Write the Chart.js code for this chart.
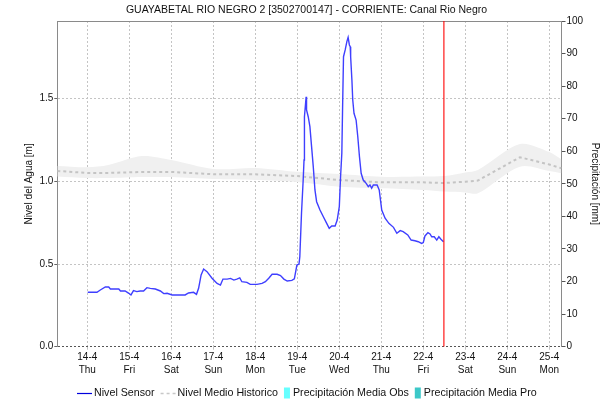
<!DOCTYPE html>
<html>
<head>
<meta charset="utf-8">
<script src="https://cdn.jsdelivr.net/npm/chart.js@4/dist/chart.umd.min.js"></script>
<style>
  html, body { margin: 0; padding: 0; background: #fff; }
  #wrap { width: 613px; height: 404px; }
</style>
</head>
<body>
<div id="wrap"><canvas id="c" width="613" height="404"></canvas></div>
<script>
// ---- Station / labels ----
const TITLE = 'GUAYABETAL RIO NEGRO 2 [3502700147] - CORRIENTE: Canal Rio Negro';
const DAY_LABELS = ['14-4', '15-4', '16-4', '17-4', '18-4', '19-4', '20-4', '21-4', '22-4', '23-4', '24-4', '25-4'];
const WEEKDAYS = ['Thu', 'Fri', 'Sat', 'Sun', 'Mon', 'Tue', 'Wed', 'Thu', 'Fri', 'Sat', 'Sun', 'Mon'];
const LEVEL_TICKS = [0, 0.5, 1.0, 1.5];

// x values are days counted from 14-4 00:00
const X_MIN = -0.714;
const X_MAX = 11.29;
const LEVEL_MAX = 1.97;
const PRECIP_MAX = 100;
const NOW_DAY = 8.49;

// ---- Water level from the sensor [m] ----
const SENSOR_T = [0.01,0.23,0.31,0.43,0.51,0.55,0.75,0.79,0.90,0.99,
  1.04,1.10,1.18,1.26,1.34,1.42,1.50,1.62,1.74,1.82,
  1.90,2.02,2.33,2.41,2.53,2.60,2.65,2.71,2.77,2.85,
  2.97,3.09,3.17,3.23,3.33,3.41,3.49,3.56,3.63,3.68,
  3.80,3.88,4.04,4.16,4.24,4.32,4.40,4.52,4.60,4.68,
  4.76,4.87,4.93,4.99,5.04,5.06,5.10,5.14,5.16,5.17,
  5.21,5.22,5.26,5.30,5.34,5.38,5.42,5.46,5.54,5.62,
  5.70,5.76,5.82,5.90,5.95,6.00,6.03,6.06,6.08,6.10,
  6.14,6.18,6.21,6.24,6.26,6.27,6.30,6.32,6.35,6.40,
  6.44,6.48,6.52,6.57,6.64,6.69,6.73,6.77,6.81,6.90,
  6.95,7.01,7.09,7.18,7.29,7.37,7.45,7.52,7.63,7.71,
  7.80,7.88,7.96,8.00,8.04,8.11,8.16,8.20,8.26,8.32,
  8.37,8.42,8.48];
const SENSOR_M = [0.329,0.329,0.343,0.361,0.361,0.349,0.349,0.337,0.337,0.323,
  0.313,0.339,0.333,0.337,0.337,0.357,0.353,0.349,0.337,0.321,
  0.323,0.313,0.313,0.325,0.329,0.317,0.353,0.434,0.470,0.454,
  0.414,0.383,0.373,0.409,0.409,0.413,0.403,0.409,0.416,0.393,
  0.389,0.377,0.377,0.383,0.393,0.414,0.438,0.438,0.430,0.409,
  0.397,0.401,0.410,0.494,0.500,0.544,0.807,1.008,1.129,1.391,
  1.512,1.432,1.391,1.331,1.210,1.089,0.948,0.877,0.827,0.786,
  0.746,0.716,0.730,0.730,0.766,0.847,1.028,1.170,1.472,1.754,
  1.795,1.845,1.871,1.825,1.815,1.754,1.613,1.492,1.412,1.371,
  1.270,1.149,1.049,1.008,0.988,0.968,0.978,0.958,0.978,0.978,
  0.948,0.827,0.777,0.746,0.722,0.686,0.702,0.696,0.676,0.645,
  0.641,0.635,0.625,0.630,0.670,0.690,0.682,0.665,0.665,0.645,
  0.665,0.650,0.635];

// ---- Historical mean level and its range [m] ----
const HIST_T    = [-0.714, 0, 0.5, 1.3, 2, 3, 4, 5, 6, 7, 8, 8.5, 9, 9.3, 10.3, 11, 11.29];
const HIST_MEAN = [1.063, 1.051, 1.051, 1.057, 1.057, 1.043, 1.043, 1.032, 1.008, 0.994, 0.994, 0.990, 0.998, 1.005, 1.146, 1.102, 1.079];
const HIST_HIGH = [1.093, 1.085, 1.099, 1.153, 1.129, 1.075, 1.081, 1.058, 1.045, 1.028, 1.029, 1.032, 1.054, 1.069, 1.226, 1.178, 1.133];
const HIST_LOW  = [1.029, 1.020, 1.020, 1.026, 1.026, 1.014, 1.008, 0.996, 0.968, 0.958, 0.948, 0.938, 0.933, 0.928, 1.089, 1.063, 1.049];

// ---- Precipitation [mm] (no values in this period) ----
const PRECIP_OBS = [];
const PRECIP_PRO = [];

const FONT = '"Liberation Sans", Arial, sans-serif';
const pts = (xs, ys) => xs.map((x, i) => ({ x, y: ys[i] }));

// Legend drawn as a single centred row under the axis labels
const legendRow = {
  id: 'legendRow',
  afterDraw(chart) {
    const ctx = chart.ctx;
    const items = chart.data.datasets.filter(d => d.legendKind);
    ctx.save();
    ctx.font = '10.7px ' + FONT;
    ctx.textBaseline = 'middle';
    const markW = k => (k === 'box' ? 6 : 15);
    const markGap = k => (k === 'box' ? 3 : 2);
    const itemGap = 6;
    const widths = items.map(d => markW(d.legendKind) + markGap(d.legendKind) + ctx.measureText(d.label).width);
    const total = widths.reduce((a, b) => a + b, 0) + itemGap * (items.length - 1);
    let x = Math.round(chart.width / 2 - total / 2);
    const y = 393;
    items.forEach((d, i) => {
      const k = d.legendKind;
      if (k === 'line' || k === 'dash') {
        ctx.beginPath();
        ctx.strokeStyle = d.legendColor || d.borderColor;
        ctx.lineWidth = k === 'dash' ? 1.5 : 1.2;
        ctx.setLineDash(k === 'dash' ? [3, 3] : []);
        ctx.moveTo(x, y + 0.5);
        ctx.lineTo(x + 15, y + 0.5);
        ctx.stroke();
        ctx.setLineDash([]);
      } else {
        ctx.fillStyle = d.backgroundColor;
        ctx.fillRect(x, y - 5.5, 6, 11);
      }
      ctx.fillStyle = '#111';
      ctx.fillText(d.label, x + markW(k) + markGap(k), y);
      x += widths[i] + itemGap;
    });
    ctx.restore();
  }
};

new Chart(document.getElementById('c'), {
  type: 'line',
  data: {
    datasets: [
      {
        label: 'Ahora',
        data: [{ x: NOW_DAY, y: 0 }, { x: NOW_DAY, y: PRECIP_MAX }],
        yAxisID: 'y2',
        borderColor: 'rgba(255,0,0,0.9)',
        borderWidth: 1.2,
        pointRadius: 0
      },
      {
        label: 'Nivel Sensor',
        legendKind: 'line',
        legendColor: '#0000dd',
        data: pts(SENSOR_T, SENSOR_M),
        yAxisID: 'y',
        borderColor: '#3f3fff',
        borderWidth: 1.4,
        pointRadius: 0,
        tension: 0
      },
      {
        label: 'Nivel Medio Historico',
        legendKind: 'dash',
        legendColor: '#c8c8c8',
        data: pts(HIST_T, HIST_MEAN),
        yAxisID: 'y',
        borderColor: '#c4c4c4',
        borderWidth: 2,
        borderDash: [3, 3],
        pointRadius: 0,
        tension: 0
      },
      {
        label: 'Rango Historico',
        data: pts(HIST_T, HIST_HIGH),
        yAxisID: 'y',
        borderWidth: 0,
        borderColor: 'rgba(0,0,0,0)',
        backgroundColor: '#f0f0f0',
        fill: '+1',
        pointRadius: 0,
        tension: 0.3
      },
      {
        label: 'Rango Historico min',
        data: pts(HIST_T, HIST_LOW),
        yAxisID: 'y',
        borderWidth: 0,
        borderColor: 'rgba(0,0,0,0)',
        fill: false,
        pointRadius: 0,
        tension: 0.3
      },
      {
        type: 'bar',
        label: 'Precipitación Media Obs',
        legendKind: 'box',
        data: PRECIP_OBS,
        yAxisID: 'y2',
        backgroundColor: '#66ffff'
      },
      {
        type: 'bar',
        label: 'Precipitación Media Pro',
        legendKind: 'box',
        data: PRECIP_PRO,
        yAxisID: 'y2',
        backgroundColor: '#3cc8c8'
      }
    ]
  },
  options: {
    responsive: false,
    devicePixelRatio: 1,
    animation: false,
    layout: { padding: 0 },
    plugins: {
      legend: { display: false },
      tooltip: { enabled: false },
      title: {
        display: true,
        text: TITLE,
        color: '#111',
        font: { family: FONT, size: 10.5, weight: 'normal', lineHeight: 1.2 },
        padding: { top: 4, bottom: 4.4 }
      }
    },
    scales: {
      x: {
        type: 'linear',
        position: 'bottom',
        offset: false,
        min: X_MIN,
        max: X_MAX,
        afterBuildTicks: s => { s.ticks = DAY_LABELS.map((_, i) => ({ value: i })); },
        afterFit: s => { s.height = 57.3; },
        ticks: {
          autoSkip: false,
          maxRotation: 0,
          padding: 1,
          color: '#111',
          font: { family: FONT, size: 10, lineHeight: 1.3 },
          callback: v => [DAY_LABELS[v], WEEKDAYS[v]]
        },
        grid: {
          offset: false,
          color: '#c4c4c4',
          tickColor: '#c4c4c4',
          tickLength: 3,
          lineWidth: 1
        },
        border: { display: false, dash: [2, 2] }
      },
      xTop: {
        type: 'linear',
        position: 'top',
        offset: false,
        min: X_MIN,
        max: X_MAX,
        afterFit: s => { s.height = 0; },
        ticks: { display: false },
        grid: { display: false, drawTicks: false, offset: false },
        border: { display: true, color: '#8a8a8a', width: 1 }
      },
      y: {
        type: 'linear',
        position: 'left',
        min: 0,
        max: LEVEL_MAX,
        afterBuildTicks: s => { s.ticks = LEVEL_TICKS.map(v => ({ value: v })); },
        afterFit: s => { s.width = 57.3; },
        ticks: {
          padding: 1,
          color: '#111',
          font: { family: FONT, size: 10 },
          callback: v => v.toFixed(1)
        },
        grid: {
          color: c => (c.tick && c.tick.value === 0 ? '#555' : '#c4c4c4'),
          tickColor: '#666',
          tickLength: 3,
          lineWidth: 1
        },
        border: { display: true, color: '#8a8a8a', width: 1, dash: [2, 2] },
        title: {
          display: true,
          text: 'Nivel del Agua [m]',
          color: '#111',
          font: { family: FONT, size: 10, lineHeight: 1.2 },
          padding: { top: 23, bottom: 0 }
        }
      },
      y2: {
        type: 'linear',
        position: 'right',
        min: 0,
        max: PRECIP_MAX,
        afterFit: s => { s.width = 613 - 561.5; },
        ticks: {
          stepSize: 10,
          padding: 1,
          color: '#111',
          font: { family: FONT, size: 10 }
        },
        grid: {
          drawOnChartArea: false,
          tickColor: '#555',
          tickLength: 4
        },
        border: { display: true, color: '#8a8a8a', width: 1 },
        title: {
          display: true,
          text: 'Precipitación [mm]',
          color: '#111',
          font: { family: FONT, size: 10, lineHeight: 1.2 },
          padding: { top: 12, bottom: 0 }
        }
      }
    }
  },
  plugins: [legendRow]
});
</script>
</body>
</html>
